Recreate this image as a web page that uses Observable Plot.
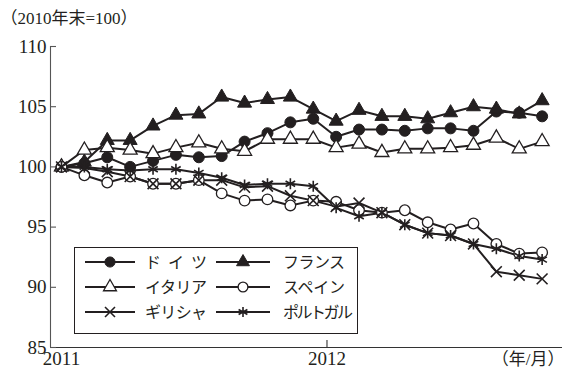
<!DOCTYPE html>
<html>
<head>
<meta charset="utf-8">
<script src="https://cdn.jsdelivr.net/npm/d3@7"></script>
<script src="https://cdn.jsdelivr.net/npm/@observablehq/plot@0.6"></script>
<style>
  body { margin: 0; background: #fff; }
  #chart { width: 573px; height: 374px; }
</style>
</head>
<body>
<div id="chart"></div>
<script>
// Month index: 0 = end of 2010 (base = 100), then one point per month
const months = d3.range(22);
const countries = ["ドイツ", "フランス", "イタリア", "スペイン", "ギリシャ", "ポルトガル"];

const germany  = [100, 100.3, 100.8, 100.0, 100.5, 101.0, 100.8, 100.9, 102.1, 102.8, 103.7, 104.0, 102.5, 103.1, 103.1, 103.0, 103.2, 103.2, 103.0, 104.6, 104.5, 104.2];
const france   = [100, 100.4, 102.2, 102.2, 103.4, 104.3, 104.4, 105.8, 105.3, 105.6, 105.8, 104.8, 103.8, 104.7, 104.2, 104.2, 104.0, 104.5, 105.0, 104.8, 104.4, 105.5];
const italy    = [100, 101.4, 101.6, 101.4, 101.1, 101.6, 102.0, 101.5, 101.3, 102.3, 102.3, 102.3, 101.6, 101.9, 101.2, 101.5, 101.5, 101.6, 101.8, 102.4, 101.5, 102.1];
const spain    = [100, 99.3, 98.7, 99.2, 98.6, 98.6, 98.9, 97.8, 97.2, 97.3, 96.8, 97.2, 97.1, 96.4, 96.2, 96.4, 95.4, 94.8, 95.3, 93.6, 92.8, 92.9];
const greece   = [100, 99.9, 99.6, 99.2, 98.6, 98.6, 98.9, 98.9, 98.3, 98.4, 97.6, 97.2, 96.7, 97.0, 96.2, 95.2, 94.5, 94.3, 93.6, 91.3, 91.0, 90.7];
const portugal = [100, 100.0, 99.8, 99.7, 99.8, 99.8, 99.5, 99.1, 98.5, 98.6, 98.6, 98.4, 96.6, 95.9, 96.2, 95.2, 94.5, 94.3, 93.6, 93.2, 92.6, 92.3];

const yTicks = [85, 90, 95, 100, 105, 110];
const xTicks = [0, 11.6];
const xTickLabels = ["2011", "2012"];
const unitLabel = "（2010年末=100）";
const xUnitLabel = "（年/月）";

const seriesValues = [germany, france, italy, spain, greece, portugal];
const rows = countries.flatMap((c, k) => months.map(i => ({country: c, i, v: seriesValues[k][i]})));

// marker style per country
const ink = "#231f20";
const markers = {
  "ドイツ":     {symbol: "circle",   fill: ink,    stroke: ink, r: 5.5, sw: 1},
  "フランス":   {symbol: "triangle", fill: ink,    stroke: ink, r: 5.2, sw: 1},
  "イタリア":   {symbol: "triangle", fill: "#fff", stroke: ink, r: 5.2, sw: 1.3},
  "スペイン":   {symbol: "circle",   fill: "#fff", stroke: ink, r: 5.3, sw: 1.3},
  "ギリシャ":   {symbol: "times",    fill: "none", stroke: ink, r: 5.0, sw: 1.6},
  "ポルトガル": {symbol: "asterisk", fill: "none", stroke: ink, r: 5.2, sw: 1.6}
};

const W = 573, H = 374;
const mL = 50, mR = 11, mT = 46, mB = 27;
const frameW = W - mL - mR, frameH = H - mT - mB;
const xDomain = [-0.48, 21.89];
const yDomain = [85, 110];
const serif = "'Liberation Serif', 'Noto Sans CJK JP', serif";

const dotMarks = countries.map(c => {
  const m = markers[c];
  return Plot.dot(rows.filter(d => d.country === c), {
    x: "i", y: "v", symbol: m.symbol, r: m.r, fill: m.fill, stroke: m.stroke, strokeWidth: m.sw
  });
});

const chart = Plot.plot({
  width: W, height: H,
  marginLeft: mL, marginRight: mR, marginTop: mT, marginBottom: mB,
  style: {fontFamily: serif, fontSize: "19px", color: ink, background: "#fff"},
  x: {domain: xDomain, axis: null},
  y: {domain: yDomain, axis: null},
  marks: [
    // axes
    Plot.ruleX([xDomain[0]], {stroke: "#555", strokeWidth: 1.1}),
    Plot.ruleY([yDomain[0]], {stroke: "#333", strokeWidth: 1.1}),
    Plot.ruleY(yTicks, {stroke: "#555", strokeWidth: 1.1, insetRight: frameW - 6}),
    Plot.ruleX([xTicks[1]], {stroke: "#333", strokeWidth: 1.1, insetTop: frameH - 7}),
    Plot.axisY(yTicks, {tickSize: 0, tickPadding: 4, fontSize: 19, fill: ink, label: null}),
    Plot.axisX(xTicks, {tickSize: 0, tickPadding: 4, fontSize: 19, fill: ink, label: null, tickFormat: (d, i) => xTickLabels[i]}),
    Plot.text([xUnitLabel], {frameAnchor: "bottom-right", textAnchor: "end", lineAnchor: "top", dy: 5, dx: 2, fontSize: 17, fill: ink}),
    Plot.text([unitLabel], {frameAnchor: "top-left", textAnchor: "start", lineAnchor: "middle", dx: -50, dy: -28, fontSize: 17, fill: ink}),
    // series
    Plot.line(rows, {x: "i", y: "v", z: "country", stroke: ink, strokeWidth: 2}),
    ...dotMarks
  ]
});

document.getElementById("chart").append(chart);

// legend box with two columns of line + marker samples; names are spread to an even width
const svg = d3.select(chart);
const box = {x: 74, y: 247, w: 283, h: 86};
const lg = svg.append("g").attr("class", "legend");
lg.append("rect").attr("x", box.x + 0.5).attr("y", box.y + 0.5).attr("width", box.w).attr("height", box.h)
  .attr("fill", "#fff").attr("stroke", ink).attr("stroke-width", 1);
const symbolTypes = {circle: d3.symbolCircle, triangle: d3.symbolTriangle, times: d3.symbolTimes, asterisk: d3.symbolAsterisk};
const colX = [[85, 135, 145], [216, 270, 283]];
countries.forEach((c, k) => {
  const row = Math.floor(k / 2), col = k % 2;
  const [x1, x2, tx] = colX[col];
  const y = box.y + 15 + row * 25;
  const m = markers[c];
  lg.append("line").attr("x1", x1).attr("x2", x2).attr("y1", y).attr("y2", y)
    .attr("stroke", ink).attr("stroke-width", 2);
  lg.append("path").attr("transform", `translate(${(x1 + x2) / 2},${y})`)
    .attr("d", d3.symbol(symbolTypes[m.symbol], Math.PI * m.r * m.r * 0.85)())
    .attr("fill", m.fill).attr("stroke", m.stroke).attr("stroke-width", m.sw);
  const n = c.length;
  lg.append("text").attr("x", tx).attr("y", y).attr("dy", "0.36em")
    .attr("text-anchor", "start")
    .attr("font-family", "'Noto Sans CJK JP', sans-serif").attr("font-size", 16)
    .attr("textLength", n >= 5 ? 70 : 62).attr("lengthAdjust", "spacing")
    .attr("fill", ink).text(c);
});
</script>
</body>
</html>
